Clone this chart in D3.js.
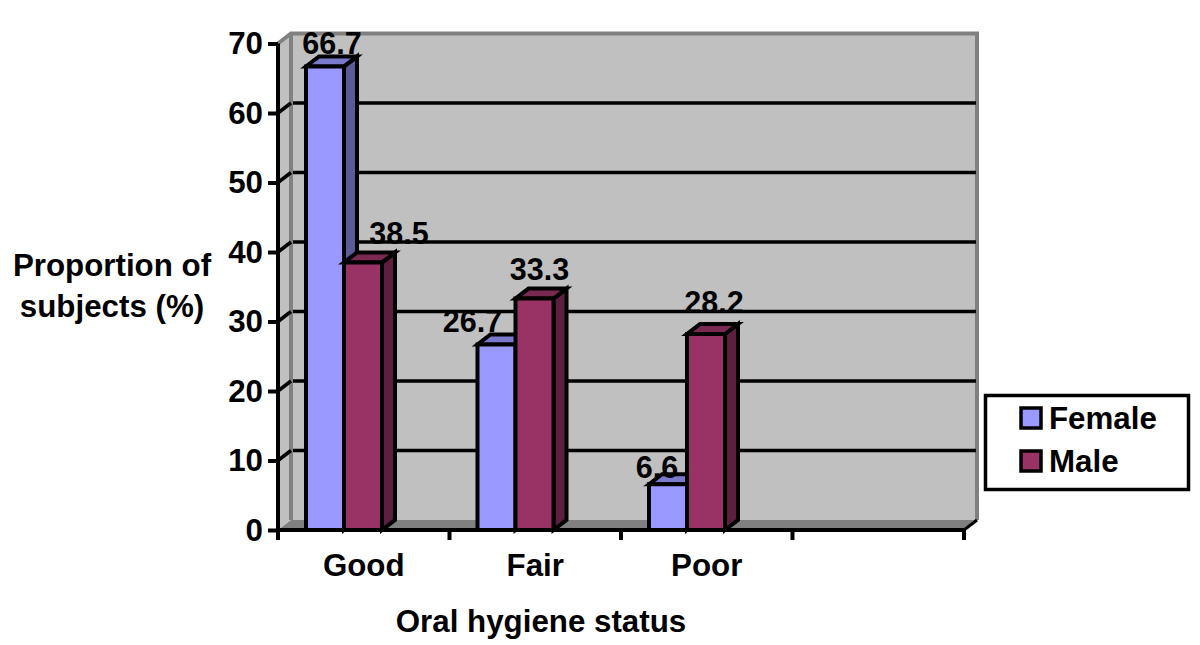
<!DOCTYPE html>
<html><head><meta charset="utf-8">
<script src="https://cdn.jsdelivr.net/npm/d3@7"></script>
<style>html,body{margin:0;background:#fff}svg{display:block}text{font-family:"Liberation Sans",Arial,sans-serif;font-weight:700;fill:#000}</style>
</head><body><svg id="c" width="1200" height="645"></svg>
<script>
const categories=["Good","Fair","Poor",""];
const seriesNames=["Female","Male"];
const female=[66.7,26.7,6.6];
const male=[38.5,33.3,28.2];
const yTicks=[0,10,20,30,40,50,60,70];
const faceColors=["#9999ff","#993366"];
const topColors=["#7a7acc","#7a2952"];
const sideColors=["#5b5b99","#5c1f3d"];

const svg=d3.select("#c");
const FS=31.3, LFS=30.5, dx=13, dy=-10;
const y=d3.scaleLinear().domain([0,70]).range([530,43.5]);
const x=d3.scaleBand().domain(categories).range([278,964]);
const inner=d3.scaleBand().domain(seriesNames).range([28,104]);
const x0=278,x1=964,y0=y(0),yT=y(70);
const poly=(pts,fill,stroke,w)=>svg.append("polygon").attr("points",pts.map(p=>p.join(",")).join(" ")).attr("fill",fill).attr("stroke",stroke||"none").attr("stroke-width",w||0);

// walls
poly([[x0,y0],[x0+dx,y0+dy],[x0+dx,yT+dy],[x0,yT]],"#c0c0c0");
poly([[x0+dx,yT+dy],[x1+dx,yT+dy],[x1+dx,y0+dy],[x0+dx,y0+dy]],"#c0c0c0");
poly([[x0,y0],[x1,y0],[x1+dx,y0+dy],[x0+dx,y0+dy]],"#808080");
svg.append("path").attr("fill","none").attr("stroke","#808080").attr("stroke-width",4)
  .attr("d",`M${x0},${yT}L${x0+dx},${yT+dy}H${x1+dx}V${y0+dy}M${x0+dx},${yT+dy}V${y0+dy}`);

// gridlines on back wall and slanted ties on side wall
const gridVals=yTicks.filter(v=>v>0&&v<70);
svg.append("g").selectAll("line").data(gridVals).join("line")
  .attr("x1",x0+dx+2).attr("x2",x1+dx-1).attr("y1",d=>y(d)+dy).attr("y2",d=>y(d)+dy)
  .attr("stroke","#000").attr("stroke-width",3.5);
svg.append("g").selectAll("line").data(gridVals).join("line")
  .attr("x1",x0).attr("x2",x0+dx).attr("y1",d=>y(d)).attr("y2",d=>y(d)+dy)
  .attr("stroke","#000").attr("stroke-width",3.5);

// bars
const rows=[female,male];
const labelDY=[[-12,-12,-6],[-18,-19,-21]];
const labelDX=[[7,-24,-11],[36,5,8]];
rows.forEach((vals,s)=>{
  const name=seriesNames[s];
  vals.forEach((v,i)=>{
    const l=x(categories[i])+inner(name), r=l+inner.bandwidth(), t=y(v), b=y(0);
    const sw=4;
    poly([[r,b],[r+dx,b+dy],[r+dx,t+dy],[r,t]],sideColors[s],"#000",sw);
    poly([[l,t],[r,t],[r+dx,t+dy],[l+dx,t+dy]],topColors[s],"#000",sw);
    poly([[l,t],[r,t],[r,b],[l,b]],faceColors[s],"#000",sw);
  });
});

// value labels
rows.forEach((vals,s)=>vals.forEach((v,i)=>{
  const name=seriesNames[s];
  const cx=x(categories[i])+inner(name)+inner.bandwidth()/2+labelDX[s][i];
  svg.append("text").attr("x",cx).attr("y",y(v)+labelDY[s][i]).attr("text-anchor","middle").attr("font-size",LFS).text(v.toFixed(1));
}));

// y axis
const yAxis=d3.axisLeft(y).tickValues(yTicks).tickSize(10).tickPadding(5).tickFormat(d3.format("d"));
const ya=svg.append("g").attr("transform",`translate(${x0},0)`).call(yAxis);
ya.select(".domain").attr("stroke","#000").attr("stroke-width",4).attr("d",`M0,${yT}V${y0}`);
ya.selectAll(".tick line").attr("stroke","#000").attr("stroke-width",4);
ya.selectAll(".tick text").attr("font-size",FS).attr("font-family",null);

// x axis
const xa=svg.append("g").attr("transform",`translate(0,${y0})`)
  .call(d3.axisBottom(x).tickSize(0).tickPadding(24));
xa.select(".domain").attr("stroke","#000").attr("stroke-width",4).attr("d",`M${x0},0H${x1}`);
xa.selectAll(".tick text").attr("font-size",FS).attr("font-family",null);
const bounds=categories.map(c=>x(c)).concat([x.range()[1]]);
xa.append("g").selectAll("line").data(bounds).join("line")
  .attr("x1",d=>d).attr("x2",d=>d).attr("y1",0).attr("y2",10)
  .attr("stroke","#000").attr("stroke-width",4);
svg.append("line").attr("x1",x1).attr("y1",y0).attr("x2",x1+dx).attr("y2",y0+dy).attr("stroke","#000").attr("stroke-width",3);

// titles
[["Proportion of",276],["subjects (%)",317]].forEach(([t,b])=>
  svg.append("text").attr("x",112).attr("y",b).attr("text-anchor","middle").attr("font-size",FS).text(t));
svg.append("text").attr("x",541).attr("y",632).attr("text-anchor","middle").attr("font-size",FS).text("Oral hygiene status");

// legend
svg.append("rect").attr("x",985.5).attr("y",395.5).attr("width",203).attr("height",94).attr("fill","#fff").attr("stroke","#000").attr("stroke-width",3.5);
const leg=d3.scalePoint().domain(seriesNames).range([418,461]);
seriesNames.forEach((n,i)=>{
  svg.append("rect").attr("x",1021).attr("y",leg(n)-10).attr("width",20).attr("height",20).attr("fill",faceColors[i]).attr("stroke","#000").attr("stroke-width",3.5);
  svg.append("text").attr("x",1049).attr("y",leg(n)+11).attr("font-size",FS).text(n);
});
</script></body></html>
